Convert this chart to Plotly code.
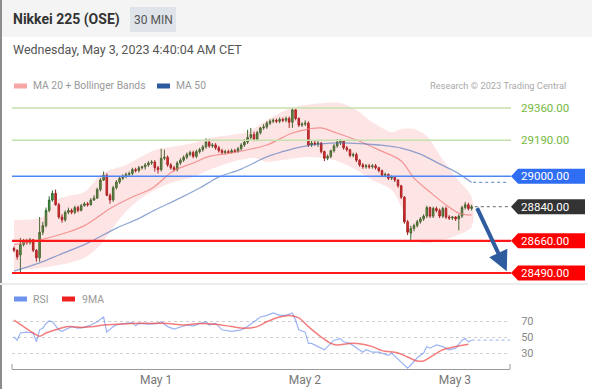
import plotly.graph_objects as go

W, H = 592, 389

# ---------------- data ----------------
opens = [28620, 28610, 28585, 28640, 28660, 28650, 28665, 28610, 28570, 28705,
         28740, 28820, 28875, 28910, 28850, 28785, 28770, 28810, 28820, 28810,
         28835, 28820, 28845, 28855, 28850, 28875, 28885, 28930, 28980, 29005,
         28900, 28875, 28940, 28970, 28990, 29000, 29010, 29015, 29035, 29030,
         29045, 29050, 29060, 29070, 29075, 29045, 29035, 29095, 29100, 29060,
         29045, 29035, 29070, 29085, 29100, 29115, 29125, 29105, 29130, 29140,
         29155, 29180, 29160, 29165, 29150, 29135, 29125, 29130, 29125, 29135,
         29130, 29145, 29165, 29180, 29205, 29220, 29195, 29230, 29255, 29260,
         29280, 29290, 29295, 29290, 29300, 29295, 29305, 29285, 29350, 29305,
         29270, 29275, 29280, 29165, 29175, 29170, 29175, 29130, 29095, 29105,
         29135, 29160, 29180, 29185, 29150, 29140, 29110, 29115, 29085, 29060,
         29050, 29055, 29050, 29055, 29045, 29030, 29005, 29010, 28990, 28995,
         28980, 28950, 28890, 28760, 28700, 28725, 28740, 28760, 28775, 28790,
         28835, 28790, 28830, 28820, 28790, 28830, 28785, 28780, 28785, 28775,
         28790, 28835, 28850, 28830]
highs = [28630, 28615, 28675, 28670, 28670, 28675, 28670, 28615, 28785, 28760,
         28835, 28895, 28925, 28930, 28860, 28800, 28820, 28835, 28830, 28845,
         28845, 28855, 28865, 28865, 28885, 28900, 28940, 28990, 29025, 29015,
         28910, 28950, 28980, 29000, 29010, 29020, 29025, 29045, 29045, 29055,
         29055, 29070, 29080, 29085, 29085, 29055, 29145, 29140, 29110, 29070,
         29055, 29080, 29095, 29110, 29125, 29135, 29135, 29140, 29150, 29165,
         29200, 29195, 29175, 29175, 29160, 29145, 29140, 29140, 29145, 29145,
         29155, 29175, 29195, 29245, 29255, 29235, 29240, 29260, 29275, 29290,
         29300, 29305, 29305, 29310, 29310, 29315, 29315, 29360, 29355, 29310,
         29285, 29295, 29290, 29190, 29190, 29190, 29180, 29135, 29115, 29140,
         29170, 29195, 29195, 29190, 29160, 29145, 29125, 29125, 29090, 29070,
         29065, 29065, 29065, 29065, 29050, 29035, 29020, 29015, 29005, 29000,
         28985, 28955, 28895, 28770, 28740, 28750, 28770, 28785, 28800, 28845,
         28840, 28840, 28840, 28830, 28840, 28840, 28795, 28790, 28790, 28800,
         28845, 28865, 28860, 28850]
lows = [28600, 28560, 28490, 28630, 28640, 28640, 28600, 28550, 28550, 28690,
        28730, 28810, 28865, 28845, 28775, 28755, 28760, 28800, 28800, 28800,
        28810, 28815, 28840, 28840, 28845, 28870, 28880, 28920, 28975, 28895,
        28855, 28865, 28930, 28960, 28980, 28990, 29000, 29005, 29020, 29020,
        29035, 29035, 29050, 29060, 29025, 29015, 29025, 29085, 29050, 29035,
        29025, 29025, 29060, 29075, 29090, 29105, 29095, 29095, 29120, 29130,
        29145, 29150, 29150, 29140, 29125, 29115, 29115, 29120, 29120, 29125,
        29125, 29135, 29155, 29170, 29195, 29185, 29185, 29220, 29245, 29250,
        29270, 29280, 29280, 29280, 29285, 29285, 29255, 29255, 29295, 29260,
        29260, 29265, 29155, 29155, 29160, 29155, 29120, 29080, 29085, 29095,
        29125, 29150, 29165, 29140, 29130, 29100, 29100, 29075, 29050, 29040,
        29040, 29040, 29040, 29035, 29020, 28995, 28995, 28980, 28980, 28970,
        28940, 28880, 28750, 28690, 28660, 28710, 28730, 28750, 28765, 28780,
        28780, 28780, 28810, 28780, 28780, 28775, 28770, 28770, 28765, 28715,
        28780, 28825, 28820, 28820]
closes = [28610, 28575, 28640, 28660, 28650, 28665, 28610, 28570, 28705, 28740,
          28820, 28875, 28910, 28850, 28785, 28770, 28810, 28820, 28810, 28835,
          28820, 28845, 28855, 28850, 28875, 28885, 28930, 28980, 29005, 28900,
          28875, 28940, 28970, 28990, 29000, 29010, 29015, 29035, 29030, 29045,
          29050, 29060, 29070, 29075, 29045, 29035, 29095, 29100, 29060, 29045,
          29035, 29070, 29085, 29100, 29115, 29125, 29105, 29130, 29140, 29155,
          29180, 29160, 29165, 29150, 29135, 29125, 29130, 29125, 29135, 29130,
          29145, 29165, 29180, 29205, 29220, 29195, 29230, 29255, 29260, 29280,
          29290, 29295, 29290, 29300, 29295, 29305, 29285, 29350, 29305, 29270,
          29275, 29280, 29165, 29175, 29170, 29175, 29130, 29095, 29105, 29135,
          29160, 29180, 29185, 29150, 29140, 29110, 29115, 29085, 29060, 29050,
          29055, 29050, 29055, 29045, 29030, 29005, 29010, 28990, 28995, 28980,
          28950, 28890, 28760, 28705, 28725, 28740, 28760, 28775, 28790, 28835,
          28790, 28830, 28820, 28790, 28830, 28785, 28780, 28785, 28775, 28790,
          28835, 28850, 28830, 28840]

ma20_idx = [0, 8, 17, 22, 27, 30, 37, 43, 50, 56, 61, 68, 73, 79, 87, 92, 96,
            100, 107, 114, 121, 125, 130, 135, 139, 143]
ma20_val = [28640, 28664, 28706, 28740, 28795, 28830, 28891, 28935, 29030, 29070,
            29105, 29123, 29140, 29165, 29228, 29249, 29255, 29233, 29191, 29139,
            29081, 28990, 28917, 28849, 28806, 28795]

ma50_idx = [0, 8, 14, 23, 32, 38, 44, 52, 58, 64, 71, 79, 86, 93, 99, 105, 114,
            121, 127, 133, 138, 143]
ma50_val = [28500, 28543, 28585, 28648, 28727, 28770, 28822, 28886, 28938, 28996,
            29038, 29102, 29139, 29165, 29175, 29175, 29165, 29149, 29117, 29065,
            29023, 28968]

bb_up_idx = [0, 9, 13, 17, 22, 27, 30, 35, 39, 44, 49, 56, 61, 68, 73, 79, 85,
             89, 97, 102, 107, 112, 118, 121, 125, 129, 133, 138, 143]
bb_up_val = [28770, 28785, 28875, 28896, 28917, 29007, 29033, 29060, 29096, 29139,
             29154, 29175, 29202, 29218, 29233, 29297, 29350, 29370, 29386, 29386,
             29350, 29286, 29233, 29249, 29249, 29212, 29112, 28996, 28891]
bb_lo_idx = [0, 8, 17, 22, 27, 30, 34, 39, 44, 49, 56, 61, 68, 75, 79, 84, 92,
             100, 107, 112, 118, 121, 125, 129, 137, 143]
bb_lo_val = [28506, 28516, 28543, 28569, 28638, 28706, 28796, 28875, 28928, 28965,
             28996, 29033, 29075, 29096, 29075, 29086, 29102, 29086, 29033, 28980,
             28928, 28838, 28664, 28648, 28680, 28733]

rsi_idx = [0, 1, 2, 4, 6, 7, 8, 9, 10, 11, 12, 14, 15, 17, 18, 20, 22, 24, 26, 28,
           29, 31, 32, 35, 37, 38, 39, 42, 45, 46, 48, 50, 52, 54, 56, 58, 60, 61,
           63, 65, 68, 71, 73, 75, 77, 79, 81, 83, 85, 87, 88, 89, 91, 92, 93, 95,
           97, 98, 100, 102, 103, 105, 107, 109, 110, 112, 114, 117, 118, 121, 123,
           124, 126, 128, 129, 130, 132, 134, 136, 138, 140, 141, 142, 143]
rsi_val = [50, 46, 55, 56, 55, 44, 59, 61, 67, 70, 69, 59, 57, 61, 63, 61, 62, 65,
           69, 75, 56, 63, 65, 67, 68, 64, 67, 66, 67, 69, 63, 60, 63, 65, 64, 67,
           69, 65, 67, 59, 57, 59, 63, 69, 75, 77, 80, 77, 77, 80, 71, 59, 56, 42,
           42, 38, 34, 38, 46, 48, 44, 42, 36, 31, 34, 31, 31, 27, 30, 19, 11, 15,
           24, 30, 38, 36, 40, 38, 34, 36, 46, 48, 44, 46]

rsi_ma_idx = [0, 3, 6, 8, 10, 13, 17, 21, 25, 28, 32, 37, 43, 48, 53, 58, 63, 68,
              72, 76, 79, 83, 86, 89, 92, 96, 99, 101, 105, 109, 112, 115, 120, 123,
              126, 128, 131, 134, 138, 142]
rsi_ma_val = [71, 63, 55, 51, 55, 59, 63, 62, 63, 65, 66, 67, 67, 67, 65, 67, 66, 63,
              61, 63, 69, 75, 77, 74, 63, 50, 42, 40, 42, 41, 38, 33, 30, 25, 20, 20,
              27, 34, 38, 41]

resistance_levels = [29360, 29190]
pivot_level = 29000
last_price = 28840
support_levels = [28660, 28490]
rsi_levels = [30, 50, 70]
day_tick_pos = [44.4, 90.9, 137.8]
day_tick_labels = ["May 1", "May 2", "May 3"]

# ---------------- helpers ----------------
def X(p):
    return p / W


def Y(p):
    return 1 - p / H


FONT = "Roboto, 'Open Sans', Arial, sans-serif"
YMIN, YMAX = 28437.4, 29428.5
PX_PER_UNIT = (283 - 95) / (YMAX - YMIN)
XR = [-0.625, 155]
n = len(closes)
xs = list(range(n))

fig = go.Figure()

# Bollinger band area
fig.add_trace(go.Scatter(
    x=bb_up_idx + bb_lo_idx[::-1], y=bb_up_val + bb_lo_val[::-1],
    fill="toself", fillcolor="rgba(245,80,80,0.15)",
    line=dict(width=0, shape="spline", smoothing=0.8),
    mode="lines", hoverinfo="skip", xaxis="x", yaxis="y"))

# MA20
fig.add_trace(go.Scatter(x=ma20_idx, y=ma20_val, mode="lines",
                         line=dict(color="rgba(240,120,120,0.75)", width=1.2, shape="spline"),
                         xaxis="x", yaxis="y"))
# MA50
fig.add_trace(go.Scatter(x=ma50_idx, y=ma50_val, mode="lines",
                         line=dict(color="rgba(70,110,185,0.6)", width=1.3, shape="spline"),
                         xaxis="x", yaxis="y"))

# candles
fig.add_trace(go.Candlestick(
    x=xs, open=opens, high=highs, low=lows, close=closes,
    increasing=dict(line=dict(color="#2f6a2f", width=1), fillcolor="#43a043"),
    decreasing=dict(line=dict(color="#9c1e1e", width=1), fillcolor="#e0282d"),
    whiskerwidth=0, xaxis="x", yaxis="y", hoverinfo="skip"))

# dotted extensions
fig.add_trace(go.Scatter(x=[ma50_idx[-1] + 0.5, 154.5], y=[ma50_val[-1]] * 2, mode="lines",
                         line=dict(color="rgba(70,110,185,0.7)", width=1.2, dash="dot"),
                         xaxis="x", yaxis="y"))
fig.add_trace(go.Scatter(x=[n, 154.5], y=[last_price] * 2, mode="lines",
                         line=dict(color="#888", width=1.2, dash="dot"),
                         xaxis="x", yaxis="y"))

# RSI
fig.add_trace(go.Scatter(x=rsi_idx, y=rsi_val, mode="lines",
                         line=dict(color="rgba(90,130,235,0.6)", width=1.2),
                         xaxis="x2", yaxis="y2"))
fig.add_trace(go.Scatter(x=rsi_ma_idx, y=rsi_ma_val, mode="lines",
                         line=dict(color="rgba(240,70,70,0.7)", width=1.5, shape="spline"),
                         xaxis="x2", yaxis="y2"))
fig.add_trace(go.Scatter(x=[rsi_idx[-1], 155], y=[rsi_val[-1]] * 2, mode="lines",
                         line=dict(color="rgba(90,130,235,0.5)", width=1.2, dash="dot"),
                         xaxis="x2", yaxis="y2"))

shapes = []
annotations = []

# header strip
shapes.append(dict(type="rect", xref="paper", yref="paper", x0=0, x1=1, y0=Y(37), y1=1,
                   fillcolor="#f4f4f4", line=dict(width=0), layer="below"))
shapes.append(dict(type="rect", xref="paper", yref="paper", x0=X(130), x1=X(176),
                   y0=Y(32), y1=Y(7), fillcolor="#dfe3ea", line=dict(width=0)))
annotations.append(dict(text="<b>Nikkei 225 (OSE)</b>", x=X(11), y=Y(19), xref="paper", yref="paper",
                        xanchor="left", yanchor="middle", showarrow=False,
                        font=dict(family=FONT, size=14, color="#333")))
annotations.append(dict(text="30 MIN", x=X(153), y=Y(19.5), xref="paper", yref="paper",
                        xanchor="center", yanchor="middle", showarrow=False,
                        font=dict(family=FONT, size=12, color="#555")))
annotations.append(dict(text="Wednesday, May 3, 2023 4:40:04 AM CET", x=X(11), y=Y(49),
                        xref="paper", yref="paper", xanchor="left", yanchor="middle",
                        showarrow=False, font=dict(family=FONT, size=12.5, color="#555")))

# left border
shapes.append(dict(type="line", xref="paper", yref="paper", x0=X(1), x1=X(1), y0=0, y1=1,
                   line=dict(color="#8c8c8c", width=2)))
# panel separator
shapes.append(dict(type="line", xref="paper", yref="paper", x0=0, x1=X(588), y0=Y(284), y1=Y(284),
                   line=dict(color="#ececec", width=2)))

# legends
def swatch(x0, x1, yc, color):
    shapes.append(dict(type="rect", xref="paper", yref="paper", x0=X(x0), x1=X(x1),
                       y0=Y(yc + 2.5), y1=Y(yc - 2.5), fillcolor=color, line=dict(width=0)))


def label(text, x, yc, color="#999", size=11, anchor="left"):
    annotations.append(dict(text=text, x=X(x), y=Y(yc), xref="paper", yref="paper",
                            xanchor=anchor, yanchor="middle", showarrow=False,
                            font=dict(family=FONT, size=size, color=color)))


swatch(14, 27, 86, "#f7a5a5")
label("MA 20 + Bollinger Bands", 31, 86, size=10.3)
swatch(157, 170, 86, "#2d5a9e")
label("MA 50", 174, 86, size=10.3)
label("Research © 2023 Trading Central", 568, 86, color="#aaa", size=9.3, anchor="right")
swatch(14, 27, 299, "#6f93ec")
label("RSI", 31, 299, size=10.5)
swatch(62, 75, 299, "#ee2020")
label("9MA", 80, 299, size=10.5)

# horizontal levels
def hline(level, color, width):
    shapes.append(dict(type="line", xref="paper", yref="y", x0=X(12), x1=X(511),
                       y0=level, y1=level, line=dict(color=color, width=width)))


for lv in resistance_levels:
    hline(lv, "#c4e0ad", 1.5)
    label(f"{lv:.2f}", 519, 0, color="#78b843", size=11.5)
    annotations[-1].update(yref="y", y=lv)
hline(pivot_level, "#4f86f7", 1.6)
for lv in support_levels:
    hline(lv, "#ff1a1a", 2.2)

dh = 7.5 / PX_PER_UNIT


def tag(level, color):
    path = (f"M {X(511)},{level} L {X(518)},{level + dh} L {X(585)},{level + dh} "
            f"L {X(585)},{level - dh} L {X(518)},{level - dh} Z")
    shapes.append(dict(type="path", xref="paper", yref="y", path=path,
                       fillcolor=color, line=dict(width=0)))
    annotations.append(dict(text=f"{level:.2f}", x=X(519), y=level, xref="paper", yref="y",
                            xanchor="left", yanchor="middle", showarrow=False,
                            font=dict(family=FONT, size=11.5, color="white")))


tag(pivot_level, "#2f6ef3")
tag(last_price, "#333333")
for lv in support_levels:
    tag(lv, "#ff0000")

# forecast arrow
annotations.append(dict(x=154, y=support_levels[1] + 10, ax=n + 0.5, ay=last_price,
                        xref="x", yref="y", axref="x", ayref="y", text="",
                        showarrow=True, arrowhead=2, arrowsize=1.0, arrowwidth=4,
                        arrowcolor="#2e5c9e", standoff=0, startstandoff=0))

# axis end brackets
for xp in (12, 510):
    shapes.append(dict(type="line", xref="paper", yref="paper", x0=X(xp), x1=X(xp),
                       y0=Y(369), y1=Y(364), line=dict(color="#9a9a9a", width=1)))

fig.update_layout(
    width=W, height=H, margin=dict(l=0, r=0, t=0, b=0),
    paper_bgcolor="white", plot_bgcolor="white", showlegend=False,
    font=dict(family=FONT), hovermode=False,
    xaxis=dict(domain=[X(12), X(510)], range=XR, anchor="y", visible=False,
               rangeslider=dict(visible=False), fixedrange=True),
    yaxis=dict(domain=[Y(283), Y(95)], range=[YMIN, YMAX], anchor="x", visible=False),
    xaxis2=dict(domain=[X(12), X(510)], range=XR, anchor="y2", showline=True,
                linecolor="#9a9a9a", linewidth=1, showgrid=False, zeroline=False,
                tickvals=day_tick_pos, ticktext=day_tick_labels, ticks="",
                tickfont=dict(family=FONT, size=12, color="#777")),
    yaxis2=dict(domain=[Y(369), Y(303)], range=[10, 92.5], anchor="x2", side="right",
                tickvals=rsi_levels, showgrid=True, gridcolor="#cfcfcf", griddash="dot",
                zeroline=False, showline=False, ticks="outside", ticklen=8,
                tickcolor="rgba(0,0,0,0)", tickfont=dict(family=FONT, size=11, color="#888")),
    shapes=shapes, annotations=annotations,
)

fig.write_html("out.html", config={"displayModeBar": False, "staticPlot": True},
               post_script="document.body.style.margin='0';document.body.style.overflow='hidden';")
